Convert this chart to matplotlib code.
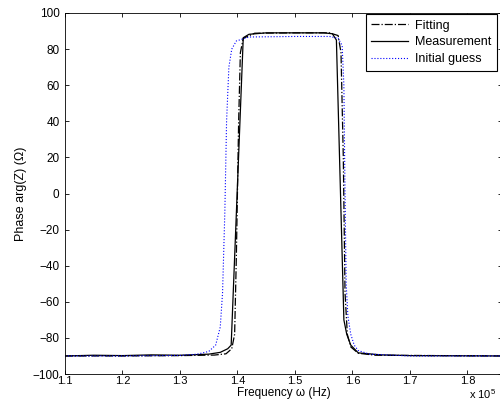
import matplotlib
matplotlib.use('Agg')
import matplotlib.pyplot as plt

plt.rcParams['font.family'] = ['Liberation Sans', 'DejaVu Sans']
plt.rcParams['mathtext.fontset'] = 'custom'
plt.rcParams['mathtext.rm'] = 'Liberation Sans'

# frequency in units of 1e5 Hz, phase in degrees
freq_meas = [1.10, 1.15, 1.20, 1.25, 1.30, 1.35, 1.37, 1.383, 1.389, 1.410, 1.420,
             1.45, 1.50, 1.55, 1.565, 1.572, 1.585, 1.590, 1.597, 1.610, 1.65, 1.70, 1.86]
phase_meas = [-90, -89.6, -89.8, -89.4, -89.6, -89, -88, -86, -84, 86.3, 88.2,
              89, 89, 89, 88.5, 85, -70, -78, -84, -88.3, -89.4, -89.8, -90]

freq_fit = [1.10, 1.20, 1.30, 1.36, 1.38, 1.390, 1.395, 1.398, 1.402, 1.405, 1.410,
            1.43, 1.50, 1.56, 1.575, 1.580, 1.584, 1.587, 1.591, 1.597, 1.61, 1.64, 1.86]
phase_fit = [-90, -90, -89.8, -89.5, -88.8, -86, -78, -35, 40, 78, 86,
             88.8, 89, 89, 87.5, 78, 20, -55, -78, -85, -88.5, -89.6, -90]

freq_init = [1.10, 1.20, 1.30, 1.33, 1.35, 1.362, 1.370, 1.374, 1.378, 1.381, 1.385,
             1.390, 1.398, 1.42, 1.50, 1.56, 1.575, 1.582, 1.585, 1.587, 1.589,
             1.592, 1.597, 1.603, 1.61, 1.63, 1.70, 1.86]
phase_init = [-90, -90, -89.7, -89, -87.5, -84, -74, -55, -10, 40, 70,
              80, 84.5, 86.7, 87, 87, 86, 82, 60, 0, -50,
              -68, -78, -84, -87, -89, -90, -90]

fig = plt.figure(figsize=(5.0, 4.01), dpi=100)
ax = fig.add_axes([0.13, 0.0673, 0.874, 0.9003])

ax.plot(freq_fit, phase_fit, color='k', linestyle='-.', linewidth=0.9, label='Fitting')
ax.plot(freq_meas, phase_meas, color='k', linestyle='-', linewidth=0.9, label='Measurement')
ax.plot(freq_init, phase_init, color='b', linestyle=':', linewidth=0.8, label='Initial guess')

ax.set_xlim(1.1, 1.86)
ax.set_ylim(-100, 100)
ax.set_xticks([1.1, 1.2, 1.3, 1.4, 1.5, 1.6, 1.7, 1.8])
ax.set_xticklabels(['1.1', '1.2', '1.3', '1.4', '1.5', '1.6', '1.7', '1.8'])
ax.set_yticks(range(-100, 101, 20))
ax.tick_params(direction='in', top=True, right=True, labelsize=8.5, length=3, width=0.6)
ax.tick_params(axis='x', labelsize=8, pad=1.5)
ax.tick_params(axis='y', pad=4)
for s in ax.spines.values():
    s.set_linewidth(0.6)

ax.set_xlabel('Frequency ω (Hz)', fontsize=8.5)
ax.xaxis.set_label_coords(0.5, -0.037)
ax.set_ylabel('Phase arg(Z) (Ω)', fontsize=9, labelpad=4)
fig.text(0.938, 0.0, r'x 10$^5$', fontsize=8, ha='left', va='bottom')

leg = ax.legend(loc='upper right', bbox_to_anchor=(0.994, 0.965),
                bbox_transform=fig.transFigure, fontsize=9, fancybox=False,
                framealpha=1, edgecolor='k', handlelength=2.9, handletextpad=0.6,
                borderpad=0.45, labelspacing=0.38, borderaxespad=0)
leg.get_frame().set_linewidth(0.8)

fig.savefig('out.png', dpi=100)
